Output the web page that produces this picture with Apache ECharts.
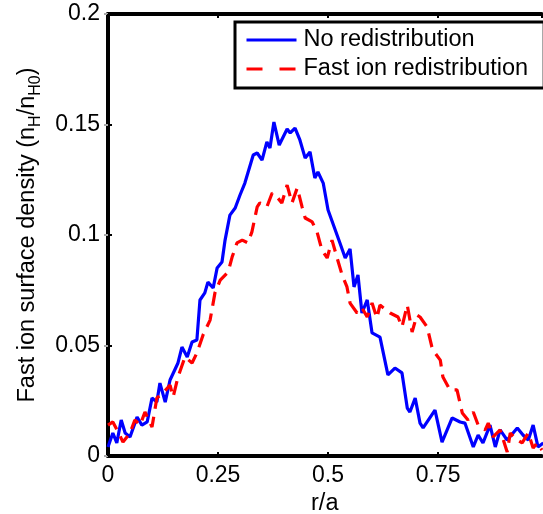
<!DOCTYPE html>
<html>
<head>
<meta charset="utf-8">
<script src="https://cdn.jsdelivr.net/npm/echarts@6/dist/echarts.min.js"></script>
<style>
html, body { margin: 0; padding: 0; background: #fff; }
#chart { width: 543px; height: 514px; }
</style>
</head>
<body>
<div id="chart"></div>
<script>
// r/a positions and densities
var blueX = [0, 0.011, 0.020, 0.030, 0.039, 0.050, 0.066, 0.077, 0.089, 0.100, 0.111, 0.118, 0.130, 0.141,
    0.159, 0.168, 0.180, 0.191, 0.202, 0.209, 0.220, 0.227, 0.239, 0.248, 0.259, 0.266, 0.277, 0.289,
    0.300, 0.311, 0.330, 0.339, 0.350, 0.361, 0.368, 0.377, 0.389, 0.407, 0.414, 0.425, 0.436, 0.448,
    0.459, 0.470, 0.477, 0.489, 0.500, 0.527, 0.539, 0.550, 0.559, 0.568, 0.577, 0.589, 0.600, 0.618,
    0.636, 0.652, 0.668, 0.680, 0.686, 0.698, 0.709, 0.716, 0.743, 0.759, 0.782, 0.800, 0.811, 0.830,
    0.841, 0.852, 0.868, 0.880, 0.891, 0.907, 0.930, 0.943, 0.955, 0.966, 0.977, 0.989];
var blueY = [0.0041, 0.0104, 0.0059, 0.0163, 0.0104, 0.0086, 0.0176, 0.0140, 0.0154, 0.0262, 0.0244, 0.0330, 0.0244, 0.0344,
    0.0421, 0.0493, 0.0448, 0.0516, 0.0525, 0.0706, 0.0738, 0.0787, 0.0760, 0.0851, 0.0878, 0.0977, 0.1090, 0.1122,
    0.1181, 0.1235, 0.1362, 0.1371, 0.1339, 0.1421, 0.1394, 0.1511, 0.1407, 0.1480, 0.1462, 0.1484, 0.1430, 0.1348,
    0.1376, 0.1258, 0.1285, 0.1235, 0.1113, 0.0964, 0.0896, 0.0937, 0.0765, 0.0819, 0.0647, 0.0706, 0.0557, 0.0538,
    0.0367, 0.0398, 0.0376, 0.0217, 0.0199, 0.0262, 0.0149, 0.0127, 0.0208, 0.0063, 0.0172, 0.0154, 0.0149, 0.0041,
    0.0095, 0.0059, 0.0140, 0.0041, 0.0118, 0.0072, 0.0127, 0.0095, 0.0072, 0.0140, 0.0041, 0.0059];

var redX = [0, 0.011, 0.023, 0.034, 0.050, 0.061, 0.073, 0.084, 0.100, 0.111, 0.125, 0.141, 0.148, 0.159,
    0.175, 0.191, 0.202, 0.216, 0.232, 0.243, 0.255, 0.273, 0.282, 0.293, 0.305, 0.318, 0.327, 0.339,
    0.345, 0.361, 0.373, 0.384, 0.395, 0.407, 0.418, 0.430, 0.441, 0.448, 0.464, 0.475, 0.486, 0.498,
    0.509, 0.520, 0.532, 0.543, 0.550, 0.566, 0.577, 0.589, 0.600, 0.611, 0.618, 0.641, 0.659, 0.668,
    0.680, 0.691, 0.702, 0.709, 0.725, 0.736, 0.743, 0.755, 0.761, 0.777, 0.793, 0.805, 0.818, 0.830,
    0.841, 0.857, 0.864, 0.875, 0.891, 0.907, 0.914, 0.930, 0.941, 0.955, 0.966, 0.975, 0.986];
var redY = [0.0140, 0.0154, 0.0109, 0.0063, 0.0104, 0.0163, 0.0140, 0.0199, 0.0131, 0.0262, 0.0285, 0.0321, 0.0267, 0.0357,
    0.0448, 0.0421, 0.0466, 0.0548, 0.0615, 0.0738, 0.0796, 0.0833, 0.0900, 0.0964, 0.0977, 0.0964, 0.1014, 0.1127,
    0.1145, 0.1127, 0.1190, 0.1172, 0.1145, 0.1226, 0.1145, 0.1213, 0.1127, 0.1077, 0.1059, 0.1014, 0.0932, 0.0896,
    0.0977, 0.0900, 0.0819, 0.0765, 0.0692, 0.0647, 0.0670, 0.0629, 0.0692, 0.0624, 0.0683, 0.0647, 0.0629, 0.0584,
    0.0683, 0.0561, 0.0638, 0.0629, 0.0584, 0.0493, 0.0466, 0.0434, 0.0357, 0.0299, 0.0299, 0.0195, 0.0163, 0.0199,
    0.0140, 0.0118, 0.0149, 0.0086, 0.0118, 0.0018, 0.0104, 0.0072, 0.0059, 0.0104, 0.0036, 0.0059, 0.0027];

var xTickLabels = ['0', '0.25', '0.5', '0.75'];
var yTickLabels = ['0', '0.05', '0.1', '0.15', '0.2'];

function pairs(xs, ys) {
    var out = [];
    for (var i = 0; i < xs.length; i++) out.push([xs[i], ys[i]]);
    return out;
}

var font = 'Liberation Sans, Arial, Helvetica, sans-serif';
var fs = 23;

var chart = echarts.init(document.getElementById('chart'));
chart.setOption({
    animation: false,
    backgroundColor: '#fff',
    textStyle: { fontFamily: font },
    grid: { left: 108, right: 1.5, top: 14, bottom: 58, containLabel: false, outerBoundsMode: 'none' },
    legend: {
        orient: 'vertical',
        left: 235,
        top: 22,
        padding: [6, 16, 7, 10],
        itemWidth: 50,
        itemHeight: 16,
        itemGap: 5,
        borderColor: '#000',
        borderWidth: 3,
        borderRadius: 0,
        backgroundColor: '#fff',
        itemStyle: { opacity: 0 },
        lineStyle: { width: 3 },
        textStyle: { fontSize: 23.5, color: '#000', fontFamily: font, padding: [0, 0, 0, 2] },
        data: [
            { name: 'No redistribution' },
            { name: 'Fast ion redistribution', lineStyle: { width: 3, type: [16, 17] } }
        ]
    },
    xAxis: [{
        type: 'value',
        min: 0,
        max: 0.985,
        interval: 0.25,
        name: 'r/a',
        nameLocation: 'middle',
        nameGap: 36,
        nameTextStyle: { fontSize: 23.5, color: '#000', fontFamily: font },
        axisLine: { show: true, onZero: false, lineStyle: { color: '#000', width: 4 } },
        axisTick: { show: true, inside: true, length: 4, lineStyle: { color: '#000', width: 2 } },
        axisLabel: {
            fontSize: fs, color: '#000', margin: 8, showMaxLabel: false,
            formatter: function (v) {
                var i = Math.round(v / 0.25);
                return Math.abs(v - i * 0.25) < 1e-6 && xTickLabels[i] !== undefined ? xTickLabels[i] : '';
            }
        },
        splitLine: { show: false }
    }, {
        type: 'value',
        position: 'top',
        min: 0,
        max: 0.985,
        interval: 0.25,
        axisLine: { show: true, onZero: false, lineStyle: { color: '#000', width: 4 } },
        axisTick: { show: true, inside: true, length: 4, lineStyle: { color: '#000', width: 2 } },
        axisLabel: { show: false },
        splitLine: { show: false }
    }],
    yAxis: [{
        type: 'value',
        min: 0,
        max: 0.2,
        interval: 0.05,
        name: '{n|Fast ion surface density (n}{s|H}{n|/n}{s|H0}{n|)}',
        nameLocation: 'middle',
        nameGap: 64,
        nameTextStyle: {
            color: '#000',
            fontFamily: font,
            rich: {
                n: { fontSize: 23.5, lineHeight: 32, color: '#000', fontFamily: font },
                s: { fontSize: 16, lineHeight: 18, verticalAlign: 'bottom', color: '#000', fontFamily: font }
            }
        },
        axisLine: { show: true, onZero: false, lineStyle: { color: '#000', width: 4 } },
        axisTick: { show: true, inside: true, length: 4, lineStyle: { color: '#000', width: 2 } },
        axisLabel: {
            fontSize: fs, color: '#000', margin: 8,
            formatter: function (v) {
                var i = Math.round(v / 0.05);
                return yTickLabels[i] !== undefined ? yTickLabels[i] : '';
            }
        },
        splitLine: { show: false }
    }, {
        type: 'value',
        position: 'right',
        min: 0,
        max: 0.2,
        interval: 0.05,
        axisLine: { show: false },
        axisTick: { show: true, inside: true, length: 4, lineStyle: { color: '#aaa', width: 2 } },
        axisLabel: { show: false },
        splitLine: { show: false }
    }],
    series: [{
        name: 'No redistribution',
        type: 'line',
        data: pairs(blueX, blueY),
        showSymbol: false,
        symbol: 'none',
        color: '#0000ff',
        lineStyle: { color: '#0000ff', width: 3.2 },
        clip: true
    }, {
        name: 'Fast ion redistribution',
        type: 'line',
        data: pairs(redX, redY),
        showSymbol: false,
        symbol: 'none',
        color: '#ff0000',
        lineStyle: { color: '#ff0000', width: 3.2, type: [14, 8] },
        clip: true
    }]
});
</script>
</body>
</html>
